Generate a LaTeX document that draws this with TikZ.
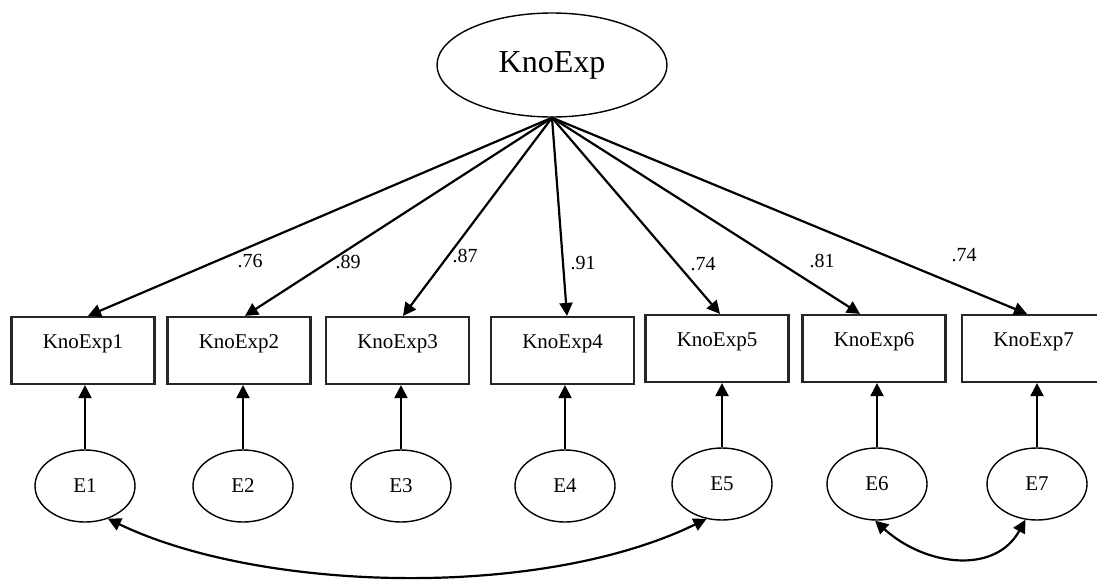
\documentclass[tikz,border=0pt]{standalone}
\usepackage{fontspec}
\setmainfont{Liberation Serif}
\usetikzlibrary{arrows.meta,shapes.geometric}
\begin{document}
\begin{tikzpicture}[x=1pt,y=-1pt,
  lat/.style={draw,ellipse,line width=1.4pt,inner sep=0pt,minimum width=230pt,minimum height=104pt,font=\fontsize{32}{36}\selectfont},
  obs/.style={draw,rectangle,line width=2.2pt,draw=black!85,inner sep=0pt,minimum width=143pt,minimum height=67pt,text height=14pt,text depth=19pt,font=\fontsize{21}{24}\selectfont},
  err/.style={draw,ellipse,line width=1.4pt,inner sep=0pt,minimum width=100pt,minimum height=72pt,font=\fontsize{21}{24}\selectfont},
  coef/.style={inner sep=0pt,font=\fontsize{20}{24}\selectfont},
  path/.style={line width=2.2pt,-{Triangle[length=13pt,width=13pt]}},
  cov/.style={line width=2.2pt,{Triangle[length=13pt,width=13pt]}-{Triangle[length=13pt,width=13pt]}}]
\clip (0,0) rectangle (1097,584);
\node[lat] (top) at (552,65) {KnoExp};
\node[obs] (k1) at (83,350.5) {KnoExp1};
\node[obs] (k2) at (239,350.5) {KnoExp2};
\node[obs] (k3) at (397.5,350.5) {KnoExp3};
\node[obs] (k4) at (562.5,350.5) {KnoExp4};
\node[obs] (k5) at (717,348.5) {KnoExp5};
\node[obs] (k6) at (874,348.5) {KnoExp6};
\node[obs] (k7) at (1033.5,348.5) {KnoExp7};
\node[err] (e1) at (85,486) {E1};
\node[err] (e2) at (243,486) {E2};
\node[err] (e3) at (401,486) {E3};
\node[err] (e4) at (565,486) {E4};
\node[err] (e5) at (722,484) {E5};
\node[err] (e6) at (877,484) {E6};
\node[err] (e7) at (1037,484) {E7};
\draw[path] (top.south) -- ([xshift=5pt]k1.north);
\draw[path] (top.south) -- ([xshift=6pt]k2.north);
\draw[path] (top.south) -- ([xshift=5.5pt]k3.north);
\draw[path] (top.south) -- ([xshift=4.5pt]k4.north);
\draw[path] (top.south) -- ([xshift=3pt]k5.north);
\draw[path] (top.south) -- ([xshift=-14pt]k6.north);
\draw[path] (top.south) -- ([xshift=-6.5pt]k7.north);
\foreach \i in {1,...,7}{\draw[path] (e\i.north) -- (e\i.north |- k\i.south);}
\node[coef] (l1) at (250,261) {.76};
\node[coef] (l2) at (348,262) {.89};
\node[coef] (l3) at (465,256) {.87};
\node[coef] (l4) at (583,263) {.91};
\node[coef] (l5) at (703,264) {.74};
\node[coef] (l6) at (822,261) {.81};
\node[coef] (l7) at (964,255) {.74};
\draw[cov] (e1.-55) .. controls (260,592) and (540,600) .. (e5.-114);
\draw[cov] (e6.-93) .. controls (925,566) and (995,575) .. (e7.-108);
\end{tikzpicture}
\end{document}
